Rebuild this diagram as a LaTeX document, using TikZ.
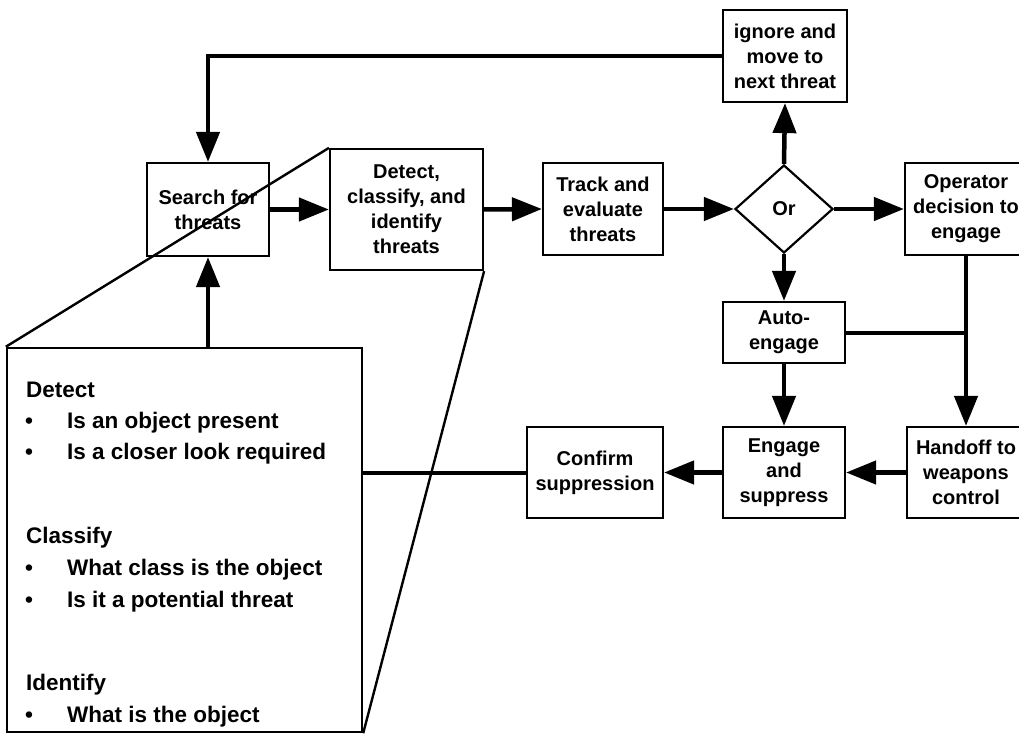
\documentclass[tikz,border=0pt]{standalone}
\usepackage{fontspec}
\setmainfont{Liberation Sans}
\usetikzlibrary{arrows.meta,shapes.geometric}
\tikzset{
  box/.style={draw, line width=2.2pt, inner sep=0pt, align=center,
    font=\bfseries\fontsize{20}{25}\selectfont},
  flow/.style={line width=4.5pt, -{Triangle[length=30pt,width=23pt]}},
  plain/.style={line width=4pt},
  thin/.style={line width=2.4pt},
  bigtxt/.style={anchor=base west, inner sep=0pt,
    font=\bfseries\fontsize{22.5}{32}\selectfont},
}
\begin{document}
\begin{tikzpicture}[x=1pt,y=-1pt]
\useasboundingbox (0,0) rectangle (1019,735);
\clip (0,0) rectangle (1019,735);
\fill[white] (0,0) rectangle (1019,735);

% flow boxes
\node[box, minimum width=122pt, minimum height=93pt] (search) at (208,209.5) {Search for\\threats};
\node[box, minimum width=153pt, minimum height=121pt] (det) at (406.5,209.5) {Detect,\\classify, and\\identify\\threats};
\node[box, minimum width=120pt, minimum height=92pt] (track) at (603,209) {Track and\\evaluate\\threats};
\node[box, shape=diamond, minimum width=98pt, minimum height=88pt] (or) at (784,209) {Or};
\node[box, minimum width=124pt, minimum height=92pt] (ign) at (785,56) {ignore and\\move to\\next threat};
\node[box, minimum width=122pt, minimum height=92pt] (op) at (966,209) {Operator\\decision to\\engage};
\node[box, minimum width=122pt, minimum height=61pt] (auto) at (784,332.5) {Auto-\\engage};
\node[box, minimum width=122pt, minimum height=91pt] (eng) at (784,472.5) {Engage\\and\\suppress};
\node[box, minimum width=118pt, minimum height=91pt] (hand) at (966,472.5) {Handoff to\\weapons\\control};
\node[box, minimum width=136pt, minimum height=91pt] (conf) at (595,472.5) {Confirm\\suppression};

% big detail box
\node[draw, line width=2.4pt, minimum width=355pt, minimum height=384pt, inner sep=0pt] (big) at (184.5,540) {};
\node[bigtxt] (h1) at (26,397) {Detect};
\node[bigtxt] (b1) at (25,428) {•};
\node[bigtxt] (t1) at (67,428) {Is an object present};
\node[bigtxt] (b2) at (25,459) {•};
\node[bigtxt] (t2) at (67,459) {Is a closer look required};
\node[bigtxt] (h2) at (26,543) {Classify};
\node[bigtxt] (b3) at (25,575) {•};
\node[bigtxt] (t3) at (67,575) {What class is the object};
\node[bigtxt] (b4) at (25,607) {•};
\node[bigtxt] (t4) at (67,607) {Is it a potential threat};
\node[bigtxt] (h3) at (26,690) {Identify};
\node[bigtxt] (b5) at (25,722) {•};
\node[bigtxt] (t5) at (67,722) {What is the object};

% zoom lines
\draw[thin] (big.north west) -- (det.north west);
\draw[thin] (big.south east) -- (det.south east);

% connectors
\draw[flow] (search.east) -- (det.west);
\draw[flow] (det.east) -- (track.west);
\draw[flow] (track.east) -- (or.west);
\draw[flow] (or.east) -- (op.west);
\draw[flow] (or.north) -- (ign.south);
\draw[flow] (or.south) -- (auto.north);
\draw[flow] (ign.west) -- (search.north |- ign.west) -- (search.north);
\draw[flow] (search.south |- big.north) -- (search.south);
\coordinate (jn) at (op.south |- auto.east);
\draw[flow] (op.south) -- (hand.north);
\draw[plain] (auto.east) -- (jn);
\draw[flow] (auto.south) -- (eng.north);
\draw[flow] (hand.west) -- (eng.east);
\draw[flow] (eng.west) -- (conf.east);
\draw[plain] (conf.west) -- (conf.west -| big.east);
\end{tikzpicture}
\end{document}
